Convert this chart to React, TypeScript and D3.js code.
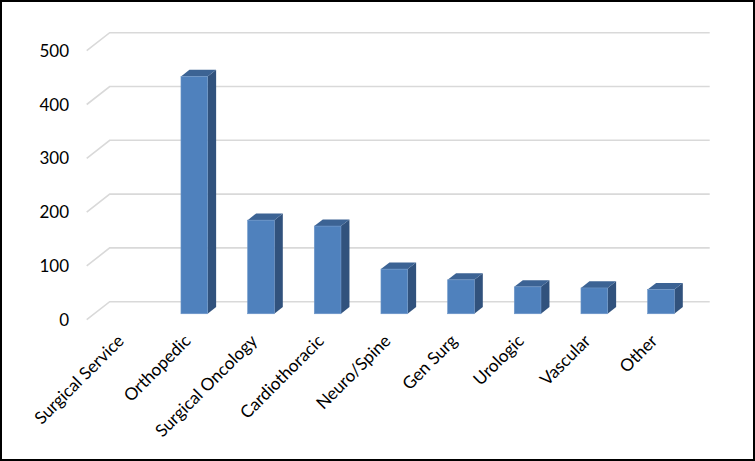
import React from "react";
import * as d3 from "d3";

const categories = [
  "Surgical Service",
  "Orthopedic",
  "Surgical Oncology",
  "Cardiothoracic",
  "Neuro/Spine",
  "Gen Surg",
  "Urologic",
  "Vascular",
  "Other",
];
const values: (number | null)[] = [null, 441, 174, 163, 83, 63, 50, 48, 45];
const yTicks = [0, 100, 200, 300, 400, 500];

const W = 755;
const H = 461;
const DX = 23; // depth vector (front -> back)
const DY = -18;
const T0 = 0.33; // bar front depth fraction
const T1 = 0.7; // bar back depth fraction
const FONT = "Lato, 'Open Sans', sans-serif";

export default function App() {
  const xFront = d3
    .scaleBand<string>()
    .domain(categories)
    .range([86.7, 686.7])
    .paddingInner(0.6)
    .paddingOuter(0.3);
  const yBack = d3.scaleLinear().domain([0, 500]).range([301.7, 32.7]);
  const frontY = (v: number) => yBack(v) - DY;
  const pt = (xf: number, v: number, t: number): [number, number] => [
    xf + DX * t,
    frontY(v) + DY * t,
  ];
  const poly = (ps: [number, number][]) => ps.map((p) => p.join(",")).join(" ");
  const bw = xFront.bandwidth();
  const x0 = 86.7;
  const xEnd = 686.7;

  return (
    <svg
      width={W}
      height={H}
      style={{ position: "absolute", left: 0, top: 0, display: "block" }}
    >
      <rect x={0} y={0} width={W} height={H} fill="#fff" />
      {yTicks.map((t) => {
        const a = pt(x0, t, 0);
        const b = pt(x0, t, 1);
        const c = pt(xEnd, t, 1);
        return (
          <path
            key={"g" + t}
            d={`M${a[0]},${a[1]}L${b[0]},${b[1]}L${c[0]},${c[1]}`}
            fill="none"
            stroke="#D9D9D9"
            strokeWidth={1.6}
          />
        );
      })}
      {yTicks.map((t) => (
        <text
          key={"yl" + t}
          x={69}
          y={frontY(t)}
          dy="0.36em"
          textAnchor="end"
          fontFamily={FONT}
          fontSize={17}
          fill="#000"
        >
          {t}
        </text>
      ))}
      {categories.map((c, i) => {
        const v = values[i];
        if (v == null) return null;
        const xl = xFront(c)!;
        const xr = xl + bw;
        const f0 = pt(xl, v, T0);
        const f1 = pt(xr, 0, T0);
        return (
          <g key={"b" + c}>
            <polygon
              points={poly([pt(xr, v, T0), pt(xr, v, T1), pt(xr, 0, T1), pt(xr, 0, T0)])}
              fill="#31527D"
            />
            <polygon
              points={poly([pt(xl, v, T0), pt(xr, v, T0), pt(xr, v, T1), pt(xl, v, T1)])}
              fill="#3C6394"
            />
            <rect
              x={f0[0]}
              y={f0[1]}
              width={f1[0] - f0[0]}
              height={f1[1] - f0[1]}
              fill="#4F81BD"
              stroke="#6E97C9"
              strokeWidth={0.6}
            />
          </g>
        );
      })}
      {categories.map((c) => {
        const cx = xFront(c)! + bw / 2;
        return (
          <text
            key={"xl" + c}
            transform={`translate(${cx + 5},${342}) rotate(-45)`}
            textAnchor="end"
            fontFamily={FONT}
            fontSize={17.2}
            fill="#000"
          >
            {c}
          </text>
        );
      })}
      <rect x={1} y={1} width={W - 2} height={H - 2} fill="none" stroke="#000" strokeWidth={2} />
    </svg>
  );
}
